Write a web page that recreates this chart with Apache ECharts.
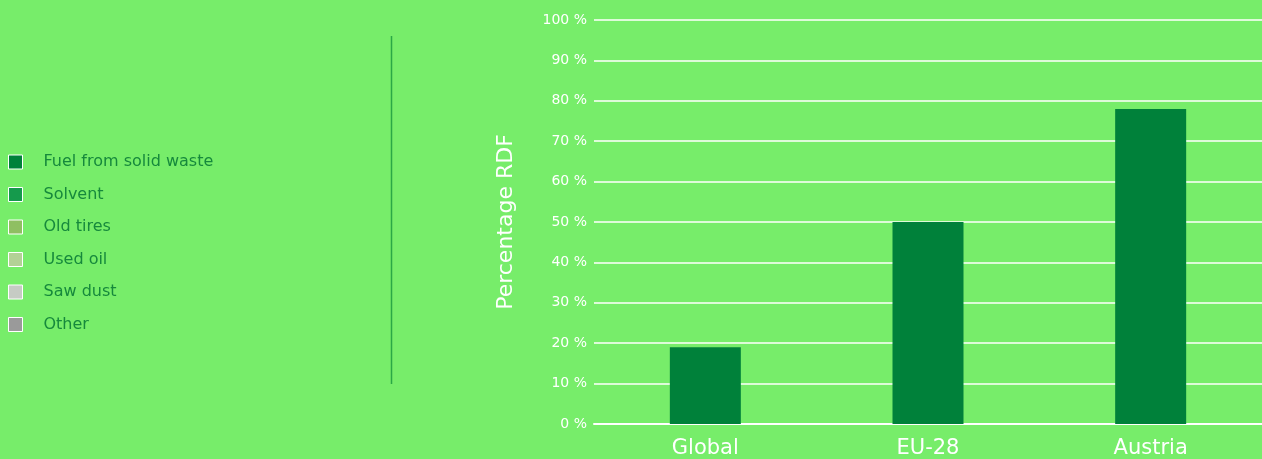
<!DOCTYPE html>
<html>
<head>
<meta charset="utf-8">
<script src="https://cdn.jsdelivr.net/npm/echarts@6/dist/echarts.min.js"></script>
<style>
html,body{margin:0;padding:0;background:#77ed6a;}
#chart{width:1262px;height:459px;}
</style>
</head>
<body>
<div id="chart"></div>
<script>
var categories = ['Global', 'EU-28', 'Austria'];
var seriesNames = ['Fuel from solid waste', 'Solvent', 'Old tires', 'Used oil', 'Saw dust', 'Other'];
var seriesColors = ['#00813a', '#159a4c', '#8fbf62', '#b3d196', '#c6cbc4', '#9a9a9a'];
var fuelFromSolidWaste = [19, 50, 78];
var solvent = [0, 0, 0];
var oldTires = [0, 0, 0];
var usedOil = [0, 0, 0];
var sawDust = [0, 0, 0];
var other = [0, 0, 0];
var yTicks = [0, 10, 20, 30, 40, 50, 60, 70, 80, 90, 100];

var allData = [fuelFromSolidWaste, solvent, oldTires, usedOil, sawDust, other];
var font = '"DejaVu Sans", sans-serif';

var chart = echarts.init(document.getElementById('chart'));
chart.setOption({
  backgroundColor: '#77ed6a',
  animation: false,
  legend: {
    orient: 'vertical',
    left: 3,
    top: 149,
    itemWidth: 14,
    itemHeight: 14,
    itemGap: 16.5,
    icon: 'rect',
    data: seriesNames,
    itemStyle: { borderColor: '#ffffff', borderWidth: 1 },
    textStyle: { color: '#16893c', fontSize: 16, fontFamily: font, padding: [0, 0, 0, 16] }
  },
  graphic: [{
    type: 'line',
    shape: { x1: 391.5, y1: 36, x2: 391.5, y2: 384 },
    style: { stroke: '#2aa846', lineWidth: 1.5 }
  }],
  grid: { left: 594, right: 0, top: 20, bottom: 33, containLabel: false },
  xAxis: {
    type: 'category',
    data: categories,
    axisLine: { show: true, lineStyle: { color: '#ffffff', width: 2 } },
    axisTick: { show: false },
    axisLabel: { color: '#ffffff', fontSize: 21, fontFamily: font, margin: 14 }
  },
  yAxis: {
    type: 'value',
    min: 0,
    max: 100,
    interval: 10,
    name: 'Percentage RDF',
    nameLocation: 'middle',
    nameGap: 77,
    nameTextStyle: { color: '#ffffff', fontSize: 22, fontFamily: font },
    axisLine: { show: false },
    axisTick: { show: false },
    axisLabel: {
      color: '#ffffff', fontSize: 14, fontFamily: font, margin: 7,
      formatter: function (v) { return yTicks.indexOf(v) >= 0 ? v + ' %' : ''; }
    },
    splitLine: { lineStyle: { color: '#ffffff', width: 1.5 } }
  },
  series: seriesNames.map(function (name, i) {
    return {
      name: name,
      type: 'bar',
      stack: 'rdf',
      barWidth: 71,
      data: allData[i],
      itemStyle: { color: seriesColors[i] }
    };
  })
});
</script>
</body>
</html>
